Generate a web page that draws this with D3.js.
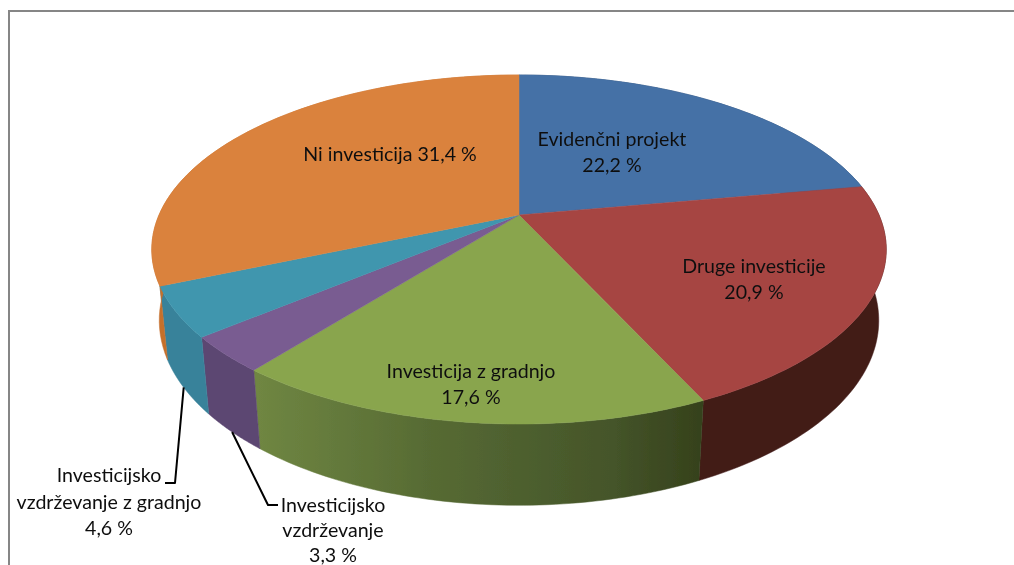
<!DOCTYPE html>
<html>
<head>
<meta charset="utf-8">
<script src="https://cdn.jsdelivr.net/npm/d3@7"></script>
<style>
    html, body { margin: 0; padding: 0; background: #fff; }
    svg { display: block; }
    text { font-family: Lato, "Open Sans", sans-serif; font-size: 19.6px; fill: #111; }
</style>
</head>
<body>
<div id="chart"></div>
<script>
const categories = ['Evidenčni projekt', 'Druge investicije', 'Investicija z gradnjo', 'Investicijsko vzdrževanje', 'Investicijsko vzdrževanje z gradnjo', 'Ni investicija'];
const values = [22.2, 20.9, 17.6, 3.3, 4.6, 31.4];
const valueLabels = ['22,2 %', '20,9 %', '17,6 %', '3,3 %', '4,6 %', '31,4 %'];
const topColors = ['#4571a6', '#a64543', '#89a54e', '#795c91', '#3f96ae', '#da823d'];
const sideColors = ['#2d4a6e', '#431c19', 'url(#greenSide)', '#5c4672', '#38829a', '#c56f2c'];

function drawPie() {
    const width = 1014;
    const height = 565;

    // pie seen in perspective, numbers found by fitting the slice edges
    const view = { cx: 519, cy: 215, rx: 360, ry: 167.7, persp: 0.1977, depth: 71, shrink: 0.02 };

    const svg = d3.select('#chart').append('svg')
        .attr('width', width)
        .attr('height', height);

    const defs = svg.append('defs');
    const grad = defs.append('linearGradient')
        .attr('id', 'greenSide')
        .attr('gradientUnits', 'userSpaceOnUse')
        .attr('x1', 258).attr('x2', 698).attr('y1', 0).attr('y2', 0);
    grad.append('stop').attr('offset', 0).attr('stop-color', '#6f8642');
    grad.append('stop').attr('offset', 0.4).attr('stop-color', '#566a33');
    grad.append('stop').attr('offset', 0.8).attr('stop-color', '#45552a');
    grad.append('stop').attr('offset', 1).attr('stop-color', '#36421c');

    // the reference is a slightly soft screenshot
    defs.append('filter')
        .attr('id', 'soft')
        .append('feGaussianBlur')
        .attr('stdDeviation', 0.45);

    const chart = svg.append('g').attr('filter', 'url(#soft)');

    // frame
    chart.append('path')
        .attr('d', `M9 ${height + 5}V11H${width + 5}`)
        .attr('fill', 'none')
        .attr('stroke', '#868686')
        .attr('stroke-width', 2);

    const slices = d3.pie().sort(null).value(d => d)(values);

    // a = clockwise angle from the top, z = 0 top face, 1 bottom face
    function project(a, z, r = 1) {
        const x = Math.sin(a) * r;
        const y = -Math.cos(a) * r;
        const w = 1 - view.persp * y + view.shrink * z;
        return [view.cx + view.rx * x / w, view.cy + (view.ry * y + view.depth * z) / w];
    }

    function arcPoints(s, z) {
        return d3.range(0, 61).map(i => project(s.startAngle + (s.endAngle - s.startAngle) * i / 60, z));
    }

    const line = d3.line();

    // outer walls first, top faces go over them
    chart.append('g').selectAll('path')
        .data(slices)
        .join('path')
        .attr('d', s => line(arcPoints(s, 0).concat(arcPoints(s, 1).reverse())) + 'Z')
        .attr('fill', (s, i) => sideColors[i])
        .attr('stroke', (s, i) => sideColors[i])
        .attr('stroke-width', 0.5);

    chart.append('g').selectAll('path')
        .data(slices)
        .join('path')
        .attr('d', s => line([project(0, 0, 0)].concat(arcPoints(s, 0))) + 'Z')
        .attr('fill', (s, i) => topColors[i])
        .attr('stroke', (s, i) => topColors[i])
        .attr('stroke-width', 0.5);

    // leader lines for the two small slices
    const leaders = [
        { slice: 3, elbow: [268, 505], end: [278, 505] },
        { slice: 4, elbow: [175, 483], end: [165, 483] }
    ];
    chart.append('g').selectAll('path')
        .data(leaders)
        .join('path')
        .attr('d', d => {
            const s = slices[d.slice];
            return line([project((s.startAngle + s.endAngle) / 2, 1), d.elbow, d.end]);
        })
        .attr('fill', 'none')
        .attr('stroke', '#000')
        .attr('stroke-width', 2)
        .attr('stroke-linejoin', 'round');

    const labels = [
        { x: 612, y: [146, 172], lines: [categories[0], valueLabels[0]] },
        { x: 754, y: [273, 299], lines: [categories[1], valueLabels[1]] },
        { x: 471, y: [378, 404], lines: [categories[2], valueLabels[2]] },
        { x: 333, y: [512, 537, 562], lines: ['Investicijsko', 'vzdrževanje', valueLabels[3]] },
        { x: 109, y: [482, 509, 535], lines: ['Investicijsko', 'vzdrževanje z gradnjo', valueLabels[4]] },
        { x: 390, y: [161], lines: [categories[5] + ' ' + valueLabels[5]] }
    ];
    const labelG = chart.append('g').attr('text-anchor', 'middle');
    labels.forEach(l => {
        l.lines.forEach((t, i) => {
            labelG.append('text')
                .attr('x', l.x)
                .attr('y', l.y[i])
                .text(t);
        });
    });
}

document.addEventListener('DOMContentLoaded', drawPie);
</script>
</body>
</html>
